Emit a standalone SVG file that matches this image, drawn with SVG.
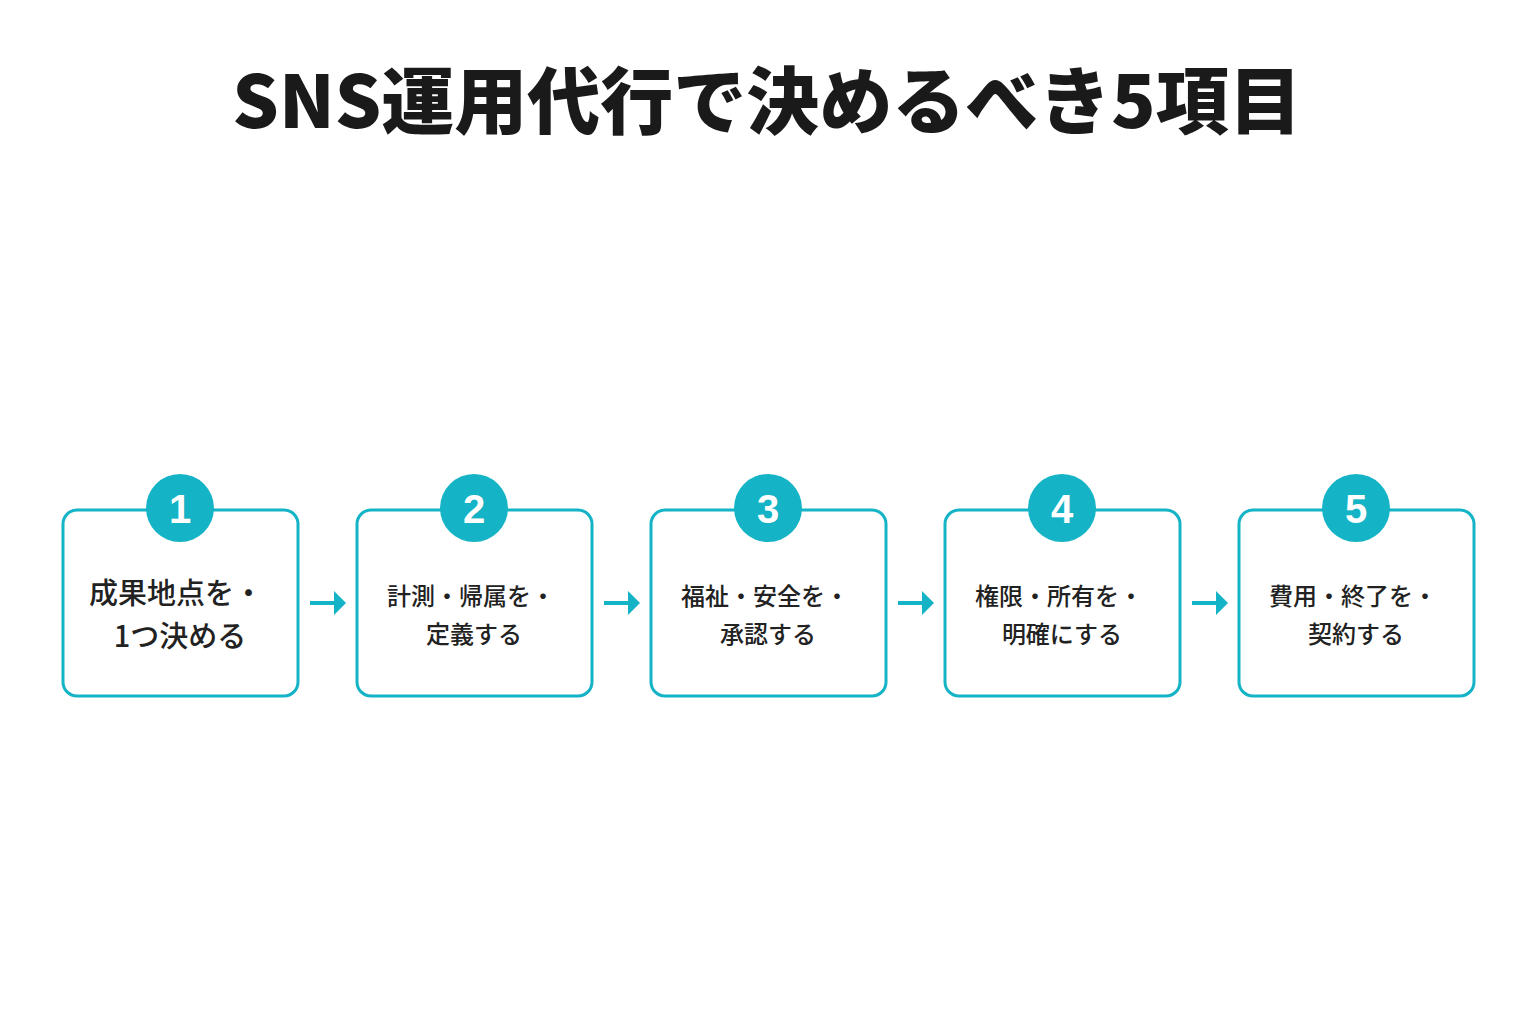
<svg xmlns="http://www.w3.org/2000/svg" width="1536" height="1024" viewBox="0 0 1536 1024">
<defs><style>
.b{fill:#fff;stroke:#15b3c6;stroke-width:3}
.c{fill:#15b3c6}
.n{font-family:"Liberation Sans","Noto Sans CJK JP",sans-serif;font-weight:bold;font-size:40px;fill:#fff;text-anchor:middle}
.t{font-family:"Noto Sans CJK JP",sans-serif;font-weight:500;font-size:24px;fill:#222;text-anchor:middle}
.t1{font-size:29px}
.a{stroke:#15b3c6;stroke-width:4}
</style>
<marker id="m" markerWidth="4" markerHeight="6" refX="0" refY="3" orient="auto" markerUnits="strokeWidth"><path d="M0,0L3,3L0,6z" fill="#15b3c6"/></marker>
</defs>
<rect width="1536" height="1024" fill="#fff"/>
<text x="767" y="128" font-family="Noto Sans CJK JP,sans-serif" font-weight="900" font-size="73" fill="#1a1a1a" text-anchor="middle">SNS運用代行で決めるべき5項目</text>
<g id="connectors">
<line class="a" x1="310" y1="603" x2="334" y2="603" marker-end="url(#m)"/>
<line class="a" x1="604" y1="603" x2="628" y2="603" marker-end="url(#m)"/>
<line class="a" x1="898" y1="603" x2="922" y2="603" marker-end="url(#m)"/>
<line class="a" x1="1192" y1="603" x2="1216" y2="603" marker-end="url(#m)"/>
</g>
<g id="n1"><rect class="b" x="63" y="510" width="235" height="186" rx="14"/><circle class="c" cx="180" cy="508" r="34"/><text class="n" x="180" y="523">1</text>
<text class="t t1" x="176" y="604">成果地点を・</text><text class="t t1" x="180" y="647">1つ決める</text></g>
<g id="n2"><rect class="b" x="357" y="510" width="235" height="186" rx="14"/><circle class="c" cx="474" cy="508" r="34"/><text class="n" x="474" y="523">2</text>
<text class="t" x="471" y="605">計測・帰属を・</text><text class="t" x="474" y="643">定義する</text></g>
<g id="n3"><rect class="b" x="651" y="510" width="235" height="186" rx="14"/><circle class="c" cx="768" cy="508" r="34"/><text class="n" x="768" y="523">3</text>
<text class="t" x="765" y="605">福祉・安全を・</text><text class="t" x="768" y="643">承認する</text></g>
<g id="n4"><rect class="b" x="945" y="510" width="235" height="186" rx="14"/><circle class="c" cx="1062" cy="508" r="34"/><text class="n" x="1062" y="523">4</text>
<text class="t" x="1059" y="605">権限・所有を・</text><text class="t" x="1062" y="643">明確にする</text></g>
<g id="n5"><rect class="b" x="1239" y="510" width="235" height="186" rx="14"/><circle class="c" cx="1356" cy="508" r="34"/><text class="n" x="1356" y="523">5</text>
<text class="t" x="1353" y="605">費用・終了を・</text><text class="t" x="1356" y="643">契約する</text></g>
</svg>
